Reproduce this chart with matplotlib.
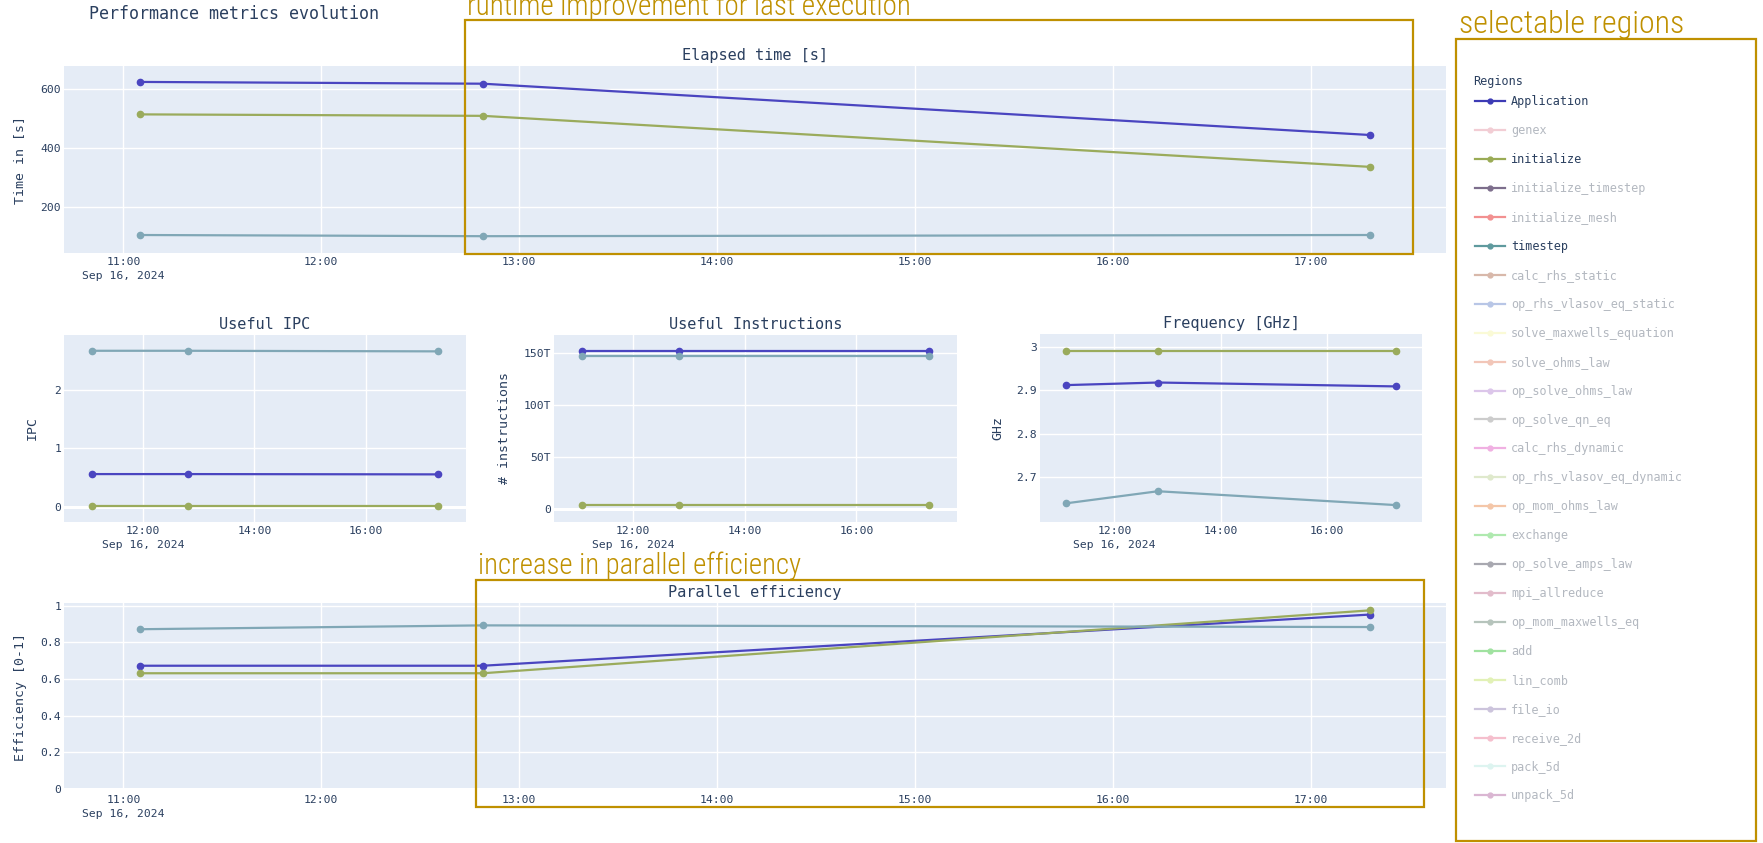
import numpy as np
import pandas as pd
import matplotlib
matplotlib.use("Agg")
import matplotlib.pyplot as plt
from matplotlib.lines import Line2D
from matplotlib.patches import Rectangle
from matplotlib import font_manager as fm

# ---------------- data ----------------
run_times = ["2024-09-16 11:05", "2024-09-16 12:49", "2024-09-16 17:18"]
date_label = "Sep 16, 2024"
wide_tick_labels = ["11:00", "12:00", "13:00", "14:00", "15:00", "16:00", "17:00"]
mid_tick_labels = ["12:00", "14:00", "16:00"]

elapsed_app = [624, 618, 444]
elapsed_init = [514, 509, 336]
elapsed_ts = [105, 101, 105]

ipc_app = [0.56, 0.56, 0.555]
ipc_init = [0.02, 0.02, 0.02]
ipc_ts = [2.67, 2.67, 2.66]

instr_app = [152e12, 152e12, 152e12]
instr_init = [4e12, 4e12, 4e12]
instr_ts = [147e12, 147e12, 147e12]

freq_app = [2.912, 2.918, 2.909]
freq_init = [2.99, 2.99, 2.99]
freq_ts = [2.639, 2.667, 2.635]

eff_app = [0.672, 0.672, 0.951]
eff_init = [0.631, 0.631, 0.974]
eff_ts = [0.871, 0.892, 0.883]

elapsed_ticks = [200, 400, 600]
ipc_ticks = [0, 1, 2]
instr_ticks = [0, 50e12, 100e12, 150e12]
instr_tick_labels = ["0", "50T", "100T", "150T"]
freq_ticks = [2.7, 2.8, 2.9, 3.0]
freq_tick_labels = ["2.7", "2.8", "2.9", "3"]
eff_ticks = [0, 0.2, 0.4, 0.6, 0.8, 1.0]
eff_tick_labels = ["0", "0.2", "0.4", "0.6", "0.8", "1"]

legend_names = ["Application", "genex", "initialize", "initialize_timestep",
                "initialize_mesh", "timestep", "calc_rhs_static",
                "op_rhs_vlasov_eq_static", "solve_maxwells_equation",
                "solve_ohms_law", "op_solve_ohms_law", "op_solve_qn_eq",
                "calc_rhs_dynamic", "op_rhs_vlasov_eq_dynamic", "op_mom_ohms_law",
                "exchange", "op_solve_amps_law", "mpi_allreduce",
                "op_mom_maxwells_eq", "add", "lin_comb", "file_io",
                "receive_2d", "pack_5d", "unpack_5d"]
legend_colors = ["#3d3bb5", "#f2cdd4", "#9aab55", "#7d6e8c", "#f29090",
                 "#5f9a9e", "#d8b8aa", "#b8c6e6", "#fafad6", "#f2c6b8",
                 "#dcc6ea", "#cccccc", "#f0b0e2", "#dfe9cc", "#f4c6a8",
                 "#afe9af", "#a8a8b0", "#e2bccb", "#b6c4bc", "#a0e2a0",
                 "#e2f1b6", "#ccc4dc", "#f5bfcd", "#ddf4f0", "#dab6d2"]
visible_regions = ["Application", "initialize", "timestep"]

ann_runtime = "runtime improvement for last execution"
ann_eff = "increase in parallel efficiency"
ann_legend = "selectable regions"

# ---------------- style ----------------
W, H, DPI = 1763, 843, 100
C_APP, C_INIT, C_TS = "#4a45c0", "#9aab5c", "#80a7b6"
BG = "#E5ECF6"
TXT = "#2a3f5f"
GOLD = "#bf9000"
MONO = "DejaVu Sans Mono"
plt.rcParams["font.family"] = [MONO, "DejaVu Sans"]

names = {f.name for f in fm.fontManager.ttflist}
ann_kw = dict(family="DejaVu Sans", fontstretch="condensed", fontweight="light")
for cand in ["Roboto Condensed", "Liberation Sans Narrow", "Open Sans Condensed",
             "Noto Sans Condensed"]:
    if cand in names:
        ann_kw = dict(family=cand, fontweight="light")
        break

fig = plt.figure(figsize=(W / DPI, H / DPI), dpi=DPI)
fig.patch.set_facecolor("white")


def rect(x0, y0, x1, y1):
    return [x0 / W, 1 - y1 / H, (x1 - x0) / W, (y1 - y0) / H]


times = pd.to_datetime(run_times)
tnum = matplotlib.dates.date2num(times.to_pydatetime())
day = "2024-09-16 "


def tick_pos(labels):
    return matplotlib.dates.date2num(pd.to_datetime([day + l for l in labels]).to_pydatetime())


def make_axes(box, series, pad_min, xlabels, ylim, yticks, ylabels, title, ylabel, ylabel_x,
              zeroline=False):
    x0, y0, x1, y1 = box
    ax = fig.add_axes(rect(*box))
    ax.set_facecolor(BG)
    for s in ax.spines.values():
        s.set_visible(False)
    ax.set_axisbelow(True)
    ax.grid(True, color="white", lw=1.0)
    if zeroline:
        ax.axhline(0, color="white", lw=2.2, zorder=1)
    for vals, col in series:
        ax.plot(tnum, vals, color=col, lw=1.6, marker="o", ms=4.5, zorder=3)
    pad = pad_min / (24 * 60)
    ax.set_xlim(tnum.min() - pad, tnum.max() + pad)
    ax.set_ylim(*ylim)
    xt = tick_pos(xlabels)
    ax.set_xticks(xt)
    lab = [xlabels[0] + "\n" + date_label] + list(xlabels[1:])
    ax.set_xticklabels(lab, linespacing=1.45)
    ax.set_yticks(yticks)
    ax.set_yticklabels(ylabels)
    ax.tick_params(axis="both", length=0, labelsize=8.2, labelcolor=TXT)
    ax.tick_params(axis="x", pad=3)
    ax.tick_params(axis="y", pad=2)
    ax.set_ylabel(ylabel, fontsize=9.5, color=TXT)
    ax.yaxis.label.set_va("center")
    ax.yaxis.set_label_coords((ylabel_x - x0) / (x1 - x0), 0.5)
    ax.text(0.5, 1 + 10.5 / (y1 - y0), title, transform=ax.transAxes, ha="center",
            va="center", fontsize=11, color=TXT)
    return ax


make_axes((64, 66, 1446, 253), [(elapsed_app, C_APP), (elapsed_init, C_INIT), (elapsed_ts, C_TS)],
          23, wide_tick_labels, (44, 678), elapsed_ticks, [str(v) for v in elapsed_ticks],
          "Elapsed time [s]", "Time in [s]", 20)
make_axes((64, 335, 466, 522), [(ipc_app, C_APP), (ipc_init, C_INIT), (ipc_ts, C_TS)],
          30, mid_tick_labels, (-0.26, 2.94), ipc_ticks, [str(v) for v in ipc_ticks],
          "Useful IPC", "IPC", 32, zeroline=True)
make_axes((554, 335, 957, 522), [(instr_app, C_APP), (instr_init, C_INIT), (instr_ts, C_TS)],
          30, mid_tick_labels, (-12.5e12, 167e12), instr_ticks, instr_tick_labels,
          "Useful Instructions", "# instructions", 504, zeroline=True)
make_axes((1040, 334, 1422, 522), [(freq_app, C_APP), (freq_init, C_INIT), (freq_ts, C_TS)],
          29, mid_tick_labels, (2.596, 3.03), freq_ticks, freq_tick_labels,
          "Frequency [GHz]", "GHz", 998)
make_axes((64, 603, 1446, 791), [(eff_app, C_APP), (eff_init, C_INIT), (eff_ts, C_TS)],
          23, wide_tick_labels, (-0.011, 1.014), eff_ticks, eff_tick_labels,
          "Parallel efficiency", "Efficiency [0-1]", 20, zeroline=True)

# main title
fig.text(89 / W, 1 - 14 / H, "Performance metrics evolution", ha="left", va="center",
         fontsize=12, color=TXT)

# legend
handles = [Line2D([], [], color=c, lw=1.6, marker="o", ms=3.5) for c in legend_colors]
leg_fs = 8.5
fs_px = leg_fs * DPI / 72
fig.text(1473 / W, 1 - 82 / H, "Regions", ha="left", va="center", fontsize=leg_fs, color=TXT)


def build_legend(ls, ay):
    lg = fig.legend(handles, legend_names, loc="upper left",
                    bbox_to_anchor=(1475 / W, ay), bbox_transform=fig.transFigure,
                    frameon=False, fontsize=leg_fs, handlelength=2.55, handletextpad=0.5,
                    labelspacing=ls, borderaxespad=0, borderpad=0)
    for t, n in zip(lg.get_texts(), legend_names):
        t.set_color(TXT if n in visible_regions else "#b3b8c0")
    return lg


ls = 1.4
ay = 1 - 92 / H
leg = build_legend(ls, ay)
fig.canvas.draw()
r = fig.canvas.get_renderer()
tx = leg.get_texts()
c0 = tx[0].get_window_extent(r)
c1 = tx[-1].get_window_extent(r)
span = (c0.y0 + c0.y1) / 2 - (c1.y0 + c1.y1) / 2
ls = ls + (694 - span) / 24 / fs_px
leg.remove()
leg = build_legend(ls, ay)
fig.canvas.draw()
c0 = leg.get_texts()[0].get_window_extent(r)
cy = (c0.y0 + c0.y1) / 2
ay = ay + ((H - 102) - cy) / H
leg.remove()
leg = build_legend(ls, ay)

# annotations
anns = [
    (fig.text(467 / W, 1 - 15 / H, ann_runtime, ha="left", va="baseline", fontsize=21,
              color=GOLD, **ann_kw), 444),
    (fig.text(478 / W, 1 - 574 / H, ann_eff, ha="left", va="baseline", fontsize=21,
              color=GOLD, **ann_kw), 322),
    (fig.text(1459 / W, 1 - 33 / H, ann_legend, ha="left", va="baseline", fontsize=21,
              color=GOLD, **ann_kw), 225),
]
fig.canvas.draw()
for t, tw in anns:
    bb = t.get_window_extent(r)
    t.set_fontsize(t.get_fontsize() * tw / bb.width)

for (x0, y0, x1, y1) in [(465, 20, 1413, 254), (476, 580, 1424, 807), (1456, 39, 1756, 841)]:
    fig.patches.append(Rectangle((x0 / W, 1 - y1 / H), (x1 - x0) / W, (y1 - y0) / H,
                                 transform=fig.transFigure, fill=False, edgecolor=GOLD,
                                 lw=1.6, zorder=10))

fig.savefig("out.png", dpi=DPI, facecolor="white")
